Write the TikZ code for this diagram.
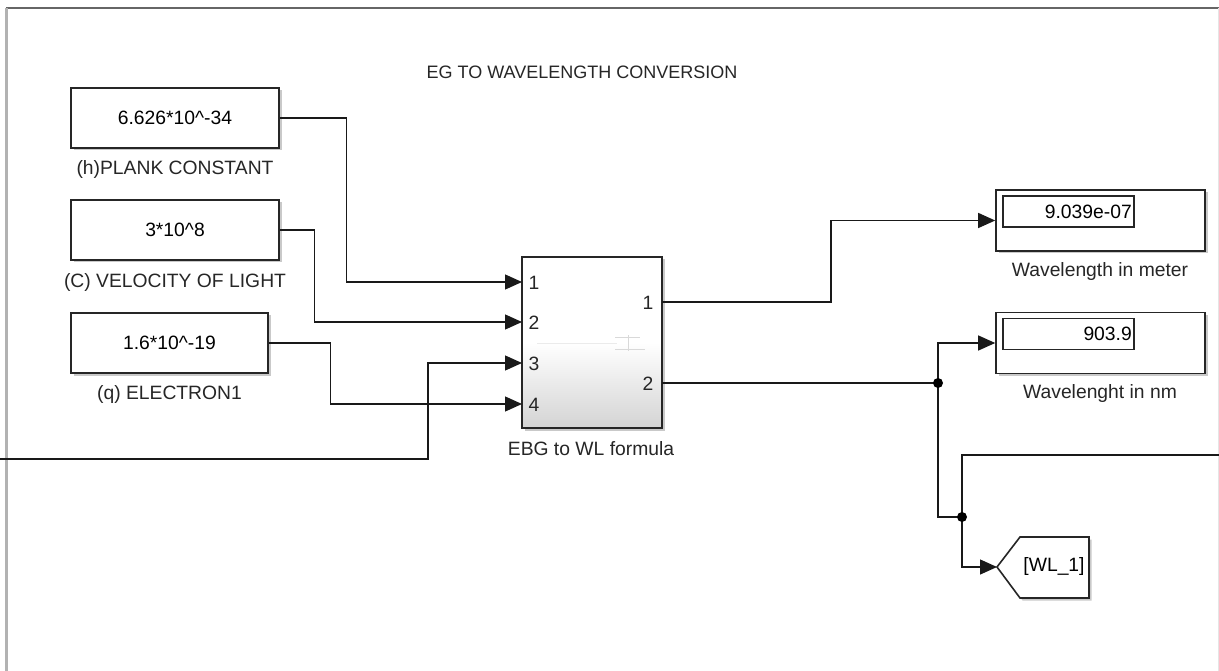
\documentclass[tikz,border=0pt]{standalone}
\usepackage{fontspec}
\setmainfont{Liberation Sans}
\usetikzlibrary{arrows.meta,shadows,calc}
\begin{document}
\begin{tikzpicture}[x=1pt,y=-1pt,
  font=\fontsize{19.3}{22}\selectfont,
  wire/.style={line width=1.3pt, black!90},
  arr/.style={wire,-{Triangle[length=17pt,width=15pt]}},
  blk/.style={draw=black!85, line width=1.6pt, fill=white, inner sep=0pt,
    drop shadow={shadow xshift=2.5pt,shadow yshift=-2.5pt,fill=black!35,opacity=0.6}},
  lbl/.style={text=black!85, inner sep=0pt},
  dotj/.style={circle, fill=black, inner sep=0pt, minimum size=10pt}]

\useasboundingbox (0,0) rectangle (1219,671);
\fill[white] (0,0) rectangle (1219,671);
% frame
\draw[black!60, line width=2pt] (6,8) -- (1219,8);
\draw[black!30, line width=3pt] (6,8) -- (6,671);
\draw[black!10, line width=1pt] (1218,8) -- (1218,671);

% title
\node[lbl, font=\fontsize{18}{21}\selectfont] (title) at (582,72) {EG TO WAVELENGTH CONVERSION};

% constants
\node[blk, minimum width=208, minimum height=60] (h) at (175,118) {6.626*10\textasciicircum-34};
\node[lbl] (hl) at (175,170) {(h)PLANK CONSTANT};
\node[blk, minimum width=208, minimum height=60] (c) at (175,230) {3*10\textasciicircum8};
\node[lbl] (cl) at (175,283) {(C) VELOCITY OF LIGHT};
\node[blk, minimum width=197, minimum height=60] (q) at (169.5,343) {1.6*10\textasciicircum-19};
\node[lbl] (ql) at (169.5,395) {(q) ELECTRON1};

% subsystem block
\node[blk, minimum width=140, minimum height=171, top color=white, bottom color=black!17, middle color=white] (ebg) at (592,342.5) {};
\node[lbl] (ebgl) at (591,449) {EBG to WL formula};
\draw[black!8, line width=0.6pt] (537,343) -- (617,343);
\draw[black!15, line width=0.6pt] (615,337) -- (640,337) (615,349) -- (645,349) (628,335) -- (628,351);
\coordinate (in1) at (522,282);
\coordinate (in2) at (522,322);
\coordinate (in3) at (522,363);
\coordinate (in4) at (522,404);
\coordinate (out1) at (662,302);
\coordinate (out2) at (662,383);
\node[lbl] (p1) at (534,283) {1};
\node[lbl] (p2) at (534,323) {2};
\node[lbl] (p3) at (534,364) {3};
\node[lbl] (p4) at (534,405) {4};
\node[lbl] (o1) at (648,303) {1};
\node[lbl] (o2) at (648,384) {2};

% displays
\node[blk, minimum width=209, minimum height=61] (d1) at (1100.5,220.5) {};
\node[draw=black!85, line width=1.2pt, minimum width=131, minimum height=31, inner sep=0pt] (d1v) at (1068.5,211.5) {};
\node[anchor=east, inner sep=0pt] (d1t) at (1132,211.5) {9.039e-07};
\node[lbl] (d1l) at (1100,272) {Wavelength in meter};

\node[blk, minimum width=209, minimum height=61] (d2) at (1100.5,343) {};
\node[draw=black!85, line width=1.2pt, minimum width=131, minimum height=31, inner sep=0pt] (d2v) at (1068.5,334) {};
\node[anchor=east, inner sep=0pt] (d2t) at (1132,334) {903.9};
\node[lbl] (d2l) at (1100,394) {Wavelenght in nm};

% goto block
\coordinate (gotoin) at (997,567);
\fill[black!35, opacity=0.6, shift={(2.5,2.5)}] (997,567) -- (1020,537) -- (1089,537) -- (1089,598) -- (1020,598) -- cycle;
\draw[black!85, line width=1.6pt, fill=white, line join=miter] (gotoin) -- (1020,537) -- (1089,537) -- (1089,598) -- (1020,598) -- cycle;
\node[inner sep=0pt] (goto) at (1054,567) {[WL\_1]};

% connectors
\coordinate (lft) at (0,459);
\coordinate (rgt) at (1219,455);
\coordinate (j1) at (938,383);
\coordinate (j2) at (962,517);

\draw[arr] (h.east) -- ++(67,0) |- (in1);
\draw[arr] (c.east) -- ++(35,0) |- (in2);
\draw[arr] (q.east) -- ++(62,0) |- (in4);
\draw[arr] (lft) -- ++(428,0) |- (in3);
\draw[arr] (out1) -- ++(169,0) |- (d1.west);
\draw[wire] (out2) -- (j1);
\draw[arr] (j1) |- (d2.west);
\draw[wire] (j1) |- (j2);
\draw[arr] (j2) |- (gotoin);
\draw[wire] (j2) |- (rgt);
\node[dotj] (jd1) at (j1) {};
\node[dotj] (jd2) at (j2) {};
\end{tikzpicture}
\end{document}
